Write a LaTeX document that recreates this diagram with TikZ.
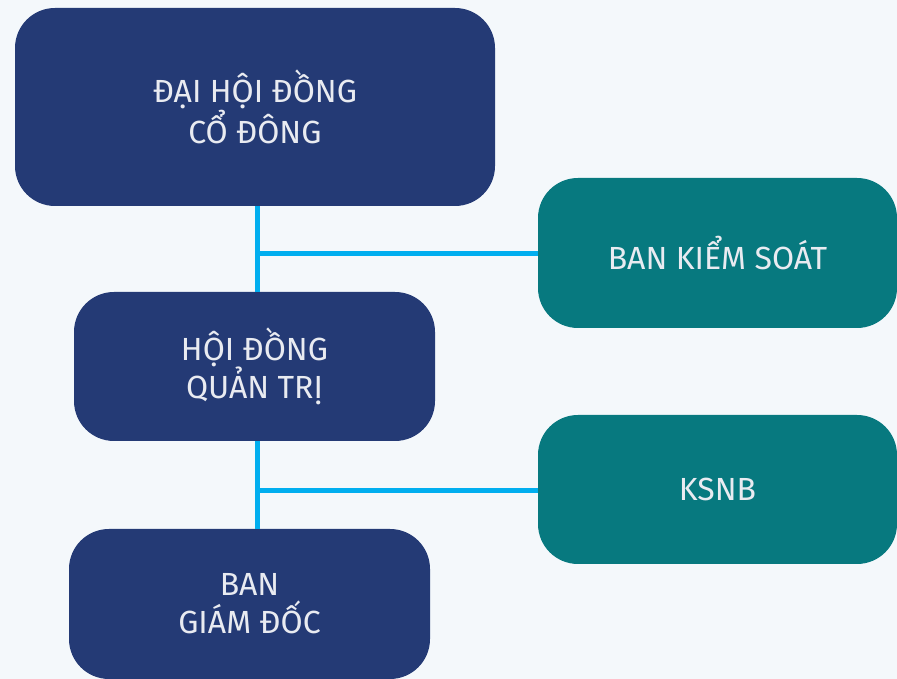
\documentclass[tikz,border=0pt]{standalone}
\usepackage{fontspec}
\setmainfont{Fira Sans}
\definecolor{navy}{HTML}{243A75}
\definecolor{teal}{HTML}{07797F}
\definecolor{cyanline}{HTML}{00AEEF}
\definecolor{bgpaper}{HTML}{F4F8FB}
\tikzset{
    unit/.style={rounded corners=40pt, text=white!90!navy, align=center,
        font=\fontsize{32}{38}\selectfont, inner sep=0pt},
    mainunit/.style={unit, fill=navy},
    sideunit/.style={unit, fill=teal},
    link/.style={cyanline, line width=5pt}
}
\begin{document}
\begin{tikzpicture}[x=1pt,y=1pt]
    \fill[bgpaper] (0,0) rectangle (897,679);
    \useasboundingbox (0,0) rectangle (897,679);

    \node[mainunit, minimum width=480pt, minimum height=198pt](dhdcd) at (255, 572) {ĐẠI HỘI ĐỒNG\\CỔ ĐÔNG};
    \node[sideunit, minimum width=359pt, minimum height=150pt](bks) at (717.5, 426) {BAN KIỂM SOÁT};
    \node[mainunit, minimum width=361pt, minimum height=149pt](hdqt) at (254.5, 312.5) {HỘI ĐỒNG\\QUẢN TRỊ};
    \node[sideunit, minimum width=359pt, minimum height=149pt](ksnb) at (717.5, 189.5) {KSNB};
    \node[mainunit, minimum width=361pt, minimum height=150pt](bgd) at (249.5, 75) {BAN\\GIÁM ĐỐC};

    \coordinate(j_1) at (257, 425);
    \coordinate(j_2) at (257, 188);
    \draw[link] (dhdcd.south -| j_1) -- (hdqt.north -| j_1);
    \draw[link] (j_1) -- (bks.west |- j_1);
    \draw[link] (hdqt.south -| j_2) -- (bgd.north -| j_2);
    \draw[link] (j_2) -- (ksnb.west |- j_2);
\end{tikzpicture}
\end{document}
